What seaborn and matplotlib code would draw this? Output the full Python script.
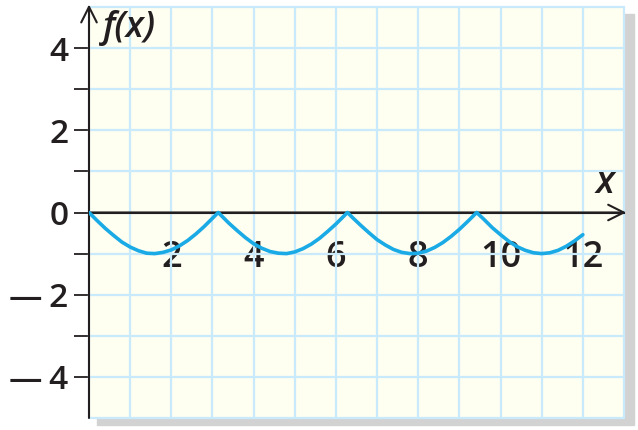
import matplotlib
matplotlib.use("Agg")
import matplotlib.pyplot as plt
from matplotlib.patches import Rectangle
from matplotlib.ticker import FuncFormatter
import seaborn as sns

sns.set_style("white")
plt.rcParams["font.family"] = ["Open Sans", "DejaVu Sans"]

# curve
x_vals = [0.0, 0.2, 0.4, 0.6, 0.8, 1.0, 1.2, 1.4, 1.6, 1.8, 2.0, 2.2, 2.4, 2.6, 2.8, 3.0, 3.14,
          3.2, 3.4, 3.6, 3.8, 4.0, 4.2, 4.4, 4.6, 4.8, 5.0, 5.2, 5.4, 5.6, 5.8, 6.0, 6.2, 6.28,
          6.4, 6.6, 6.8, 7.0, 7.2, 7.4, 7.6, 7.8, 8.0, 8.2, 8.4, 8.6, 8.8, 9.0, 9.2, 9.42,
          9.6, 9.8, 10.0, 10.2, 10.4, 10.6, 10.8, 11.0, 11.2, 11.4, 11.6, 11.8, 12.0]
y_vals = [0.0, -0.20, -0.39, -0.56, -0.72, -0.84, -0.93, -0.99, -1.00, -0.97, -0.91, -0.81, -0.68, -0.52, -0.34, -0.14, 0.0,
          -0.06, -0.26, -0.44, -0.61, -0.76, -0.87, -0.95, -0.99, -1.00, -0.96, -0.88, -0.77, -0.63, -0.46, -0.28, -0.08, 0.0,
          -0.12, -0.31, -0.49, -0.66, -0.79, -0.90, -0.97, -1.00, -0.99, -0.94, -0.85, -0.73, -0.58, -0.41, -0.22, 0.0,
          -0.17, -0.37, -0.54, -0.70, -0.83, -0.92, -0.98, -1.00, -0.98, -0.92, -0.82, -0.69, -0.54]

x_ticks = list(range(1, 13))
y_ticks = list(range(-4, 5))
x_grid = list(range(0, 14))
y_grid = list(range(-5, 6))

ink = "#231f20"
grid_blue = "#c9eafb"
curve_blue = "#1aaae5"

fig = plt.figure(figsize=(6.38, 4.30), dpi=100)
ax = fig.add_axes([89 / 638, 1 - 418 / 430, (624 - 89) / 638, (418 - 7) / 430])
ax.set_facecolor("#fefef1")

# drop shadow behind the grid
fig.add_artist(Rectangle((97 / 638, 1 - 425 / 430), (634 - 97) / 638, (425 - 14) / 430,
                         transform=fig.transFigure, color="#d2d2d2", zorder=-1))

# graph paper
for gx in x_grid:
    ax.axvline(gx, color=grid_blue, lw=1.6, zorder=1, clip_on=False)
for gy in y_grid:
    ax.axhline(gy, color=grid_blue, lw=1.6, zorder=1, clip_on=False)

sns.lineplot(x=x_vals, y=y_vals, ax=ax, color=curve_blue, lw=2.6, sort=False,
             estimator=None, zorder=4)

ax.set_xlim(0, 13)
ax.set_ylim(-5, 5)

ax.set_xticks(x_ticks)
ax.set_yticks(y_ticks)
even = FuncFormatter(lambda v, p: "" if int(v) % 2 else f"{int(v)}".replace("-", "\u2014\u2009"))
ax.xaxis.set_major_formatter(even)
ax.yaxis.set_major_formatter(even)
ax.grid(False)

for s in ["top", "right", "left"]:
    ax.spines[s].set_visible(False)
ax.spines["bottom"].set_position(("data", 0))
ax.spines["bottom"].set_color(ink)
ax.spines["bottom"].set_linewidth(1.5)
ax.spines["bottom"].set_zorder(3)

ax.tick_params(axis="x", which="major", bottom=True, direction="out", length=9.5, width=1.3,
               color=ink, labelsize=26, labelcolor=ink, pad=10)
ax.tick_params(axis="y", which="major", left=True, direction="out", length=11, width=1.3,
               color=ink, labelsize=24, labelcolor=ink, pad=4)
for lab in ax.get_xticklabels() + ax.get_yticklabels():
    lab.set_fontweight("semibold")

# axis lines with arrows
ax.annotate("", xy=(13.05, 0), xytext=(0, 0), annotation_clip=False,
            arrowprops=dict(arrowstyle="->", lw=1.5, color=ink, mutation_scale=28,
                            shrinkA=0, shrinkB=0), zorder=3)
ax.annotate("", xy=(0, 5.06), xytext=(0, -5), annotation_clip=False,
            arrowprops=dict(arrowstyle="->", lw=1.5, color=ink, mutation_scale=28,
                            shrinkA=0, shrinkB=0), zorder=3)

ax.text(0.33, 4.5, "f(x)", style="italic", fontweight="semibold", fontsize=26,
        color=ink, va="center", ha="left")
ax.text(12.55, 0.72, "x", style="italic", fontweight="semibold", fontsize=27,
        color=ink, va="center", ha="center")

fig.savefig("out.png", dpi=100)
